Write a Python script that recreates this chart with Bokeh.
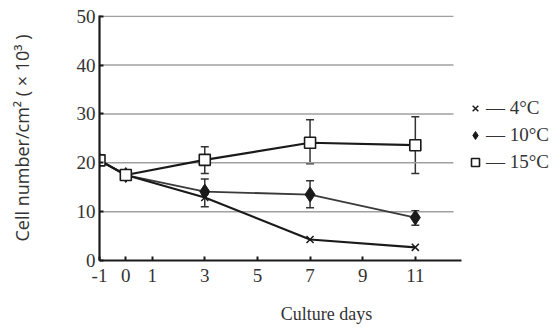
from bokeh.plotting import figure
from bokeh.models import (Range1d, FixedTicker, Legend, LegendItem, Whisker,
                          ColumnDataSource, TeeHead)
from bokeh.embed import file_html
from bokeh.resources import INLINE

# ---- data ----
days = [-1, 0, 3, 7, 11]
cells_4c = [20.5, 17.5, 12.9, 4.3, 2.7]
cells_10c = [20.5, 17.5, 14.1, 13.5, 8.8]
cells_15c = [20.5, 17.5, 20.6, 24.1, 23.6]

err_days = [3, 7, 11]
err10_lo = [11.0, 10.8, 7.2]
err10_hi = [16.7, 16.3, 10.2]
err15_lo = [17.8, 19.8, 17.8]
err15_hi = [23.3, 28.8, 29.4]

x_ticks = [-1, 0, 1, 3, 5, 7, 9, 11]
x_tick_labels = ["-1", "0", "1", "3", "5", "7", "9", "11"]
y_ticks = [0, 10, 20, 30, 40, 50]
series_labels = ["\u2014 4\u00b0C", "\u2014 10\u00b0C", "\u2014 15\u00b0C"]

SERIF = "Liberation Serif"
INK = "#1a1a1a"
X_START = -1
X_AXIS_END = 12.75
GRID_END = 12.45

p = figure(width=553, height=330, output_backend="svg", toolbar_location=None,
           x_range=Range1d(X_START, 16.25), y_range=Range1d(0, 50.15),
           min_border_left=99, min_border_right=0, min_border_top=15,
           min_border_bottom=70)
p.outline_line_color = None
p.background_fill_color = "white"
p.border_fill_color = "white"

# grid (horizontal lines that stop before the legend area)
p.xgrid.grid_line_color = None
p.ygrid.grid_line_color = None
grid_y = y_ticks[1:]
p.segment(x0=[X_START] * len(grid_y), y0=grid_y,
          x1=[GRID_END] * len(grid_y), y1=grid_y,
          line_color="#a0a0a0", line_width=1.5)

# axes
p.xaxis.ticker = FixedTicker(ticks=x_ticks)
p.xaxis.major_label_overrides = {t: s for t, s in zip(x_ticks, x_tick_labels)}
p.xaxis.bounds = (X_START, X_AXIS_END)
p.yaxis.ticker = FixedTicker(ticks=y_ticks)
for ax in (p.xaxis[0], p.yaxis[0]):
    ax.axis_line_color = INK
    ax.axis_line_width = 2.2
    ax.major_tick_line_color = INK
    ax.major_tick_line_width = 2
    ax.major_tick_in = 4
    ax.major_tick_out = 0
    ax.minor_tick_line_color = None
    ax.major_label_text_font = SERIF
    ax.major_label_text_font_size = "19px"
    ax.major_label_text_color = "#333333"
p.xaxis.major_label_standoff = 8
p.yaxis.major_label_standoff = 4
p.xaxis.axis_label = "Culture days"
p.xaxis.axis_label_text_font = SERIF
p.xaxis.axis_label_text_font_size = "18px"
p.xaxis.axis_label_text_font_style = "normal"
p.xaxis.axis_label_text_color = "#333333"
p.xaxis.axis_label_standoff = 19
p.yaxis.axis_label = "Cell number/cm\u00b2 ( \u00d7 10\u00b3 )"
p.yaxis.axis_label_text_font = "Open Sans"
p.yaxis.axis_label_text_font_size = "18px"
p.yaxis.axis_label_text_font_style = "normal"
p.yaxis.axis_label_text_color = "#333333"
p.yaxis.axis_label_standoff = 40

# error bars
src10 = ColumnDataSource(dict(x=err_days, lo=err10_lo, hi=err10_hi))
src15 = ColumnDataSource(dict(x=err_days, lo=err15_lo, hi=err15_hi))
for src in (src10, src15):
    w = Whisker(base="x", lower="lo", upper="hi", source=src,
                line_color="#333333", line_width=1.5,
                upper_head=TeeHead(size=8, line_color="#333333", line_width=1.5),
                lower_head=TeeHead(size=8, line_color="#333333", line_width=1.5))
    p.add_layout(w)

# lines
p.line(days, cells_10c, line_color="#3a3a3a", line_width=1.8)
p.line(days, cells_4c, line_color=INK, line_width=2.2)
p.line(days, cells_15c, line_color=INK, line_width=2.2)

# markers
r4 = p.scatter(days, cells_4c, marker="x", size=10, line_color=INK, line_width=1.5)
r10 = p.scatter(days, cells_10c, marker="diamond", size=15,
                fill_color=INK, line_color=INK, line_width=1)
r15 = p.scatter(days, cells_15c, marker="square", size=11, fill_color="white",
                line_color=INK, line_width=1.6)

legend = Legend(items=[LegendItem(label=series_labels[0], renderers=[r4]),
                       LegendItem(label=series_labels[1], renderers=[r10]),
                       LegendItem(label=series_labels[2], renderers=[r15])],
                location=(366, 85), orientation="vertical",
                glyph_width=20, glyph_height=20, label_height=26,
                label_standoff=1, spacing=1, padding=0, margin=0,
                border_line_color=None, background_fill_alpha=0,
                label_text_font=SERIF, label_text_font_size="19px",
                label_text_color="#333333")
p.add_layout(legend, "center")

open("out.html", "w").write(file_html(p, INLINE))
